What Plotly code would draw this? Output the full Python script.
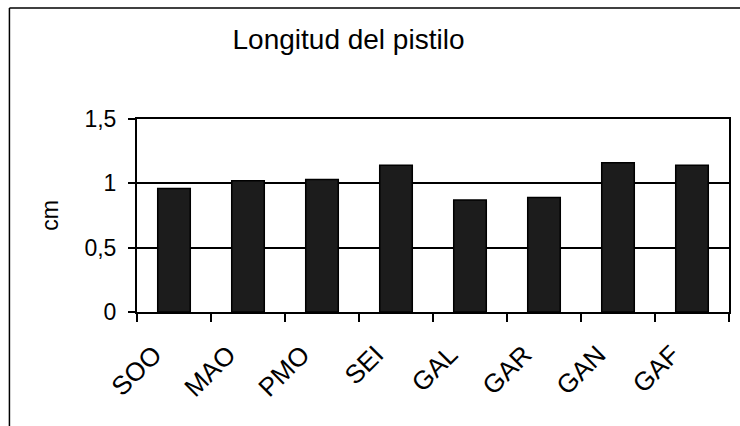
import plotly.graph_objects as go

categories = ["SOO", "MAO", "PMO", "SEI", "GAL", "GAR", "GAN", "GAF"]
values = [0.96, 1.02, 1.03, 1.14, 0.87, 0.89, 1.16, 1.14]
y_ticks = [0, 0.5, 1, 1.5]
y_tick_labels = ["0", "0,5", "1", "1,5"]
title_text = "Longitud del pistilo"
y_title = "cm"

W, H = 740, 426
ml, mr, mt, mb = 137, 9, 119, 114
pw, ph = W - ml - mr, H - mt - mb

fig = go.Figure(go.Bar(
    x=categories, y=values,
    marker=dict(color="#1c1c1c", line=dict(color="black", width=1.5)),
))

font = dict(family="Liberation Sans, Arial, sans-serif", color="black")

fx0 = (9 - ml) / pw
fx1 = (760 - ml) / pw
fy0 = -(H + 20 - (mt + ph)) / ph
fy1 = (mt + ph - 8) / ph

fig.update_layout(
    width=W, height=H,
    margin=dict(l=ml, r=mr, t=mt, b=mb),
    paper_bgcolor="white", plot_bgcolor="white",
    bargap=0.56,
    showlegend=False,
    font=font,
    title=dict(text=title_text, x=348.5 / W, xanchor="center",
               y=1 - 39 / H, yanchor="middle", yref="container",
               font=dict(size=28, **font)),
    xaxis=dict(
        showline=True, linecolor="black", linewidth=2, mirror=True,
        ticks="outside", tickson="boundaries", ticklen=8, tickcolor="black",
        tickwidth=1.5,
        tickangle=-45, tickfont=dict(size=26, **font),
        ticklabelstandoff=15, ticklabelshift=-20,
        showgrid=False,
    ),
    yaxis=dict(
        range=[0, 1.5], tickvals=y_ticks, ticktext=y_tick_labels,
        showline=True, linecolor="black", linewidth=2, mirror=True,
        ticks="outside", ticklen=7, tickcolor="black", tickwidth=1.5,
        ticklabelstandoff=7,
        showgrid=True, gridcolor="black", gridwidth=1.5,
        tickfont=dict(size=23, **font),
        title=dict(text=y_title, font=dict(size=23, **font), standoff=19),
        zeroline=False,
    ),
    shapes=[
        dict(type="line", xref="paper", yref="paper",
             x0=fx0, x1=fx1, y0=fy1, y1=fy1,
             line=dict(color="black", width=1.5), layer="above"),
        dict(type="line", xref="paper", yref="paper",
             x0=fx0, x1=fx0, y0=fy0, y1=fy1,
             line=dict(color="black", width=1.5), layer="above"),
    ],
)

fig.write_html("out.html", config={"displayModeBar": False},
               post_script="document.body.style.margin='0';")
